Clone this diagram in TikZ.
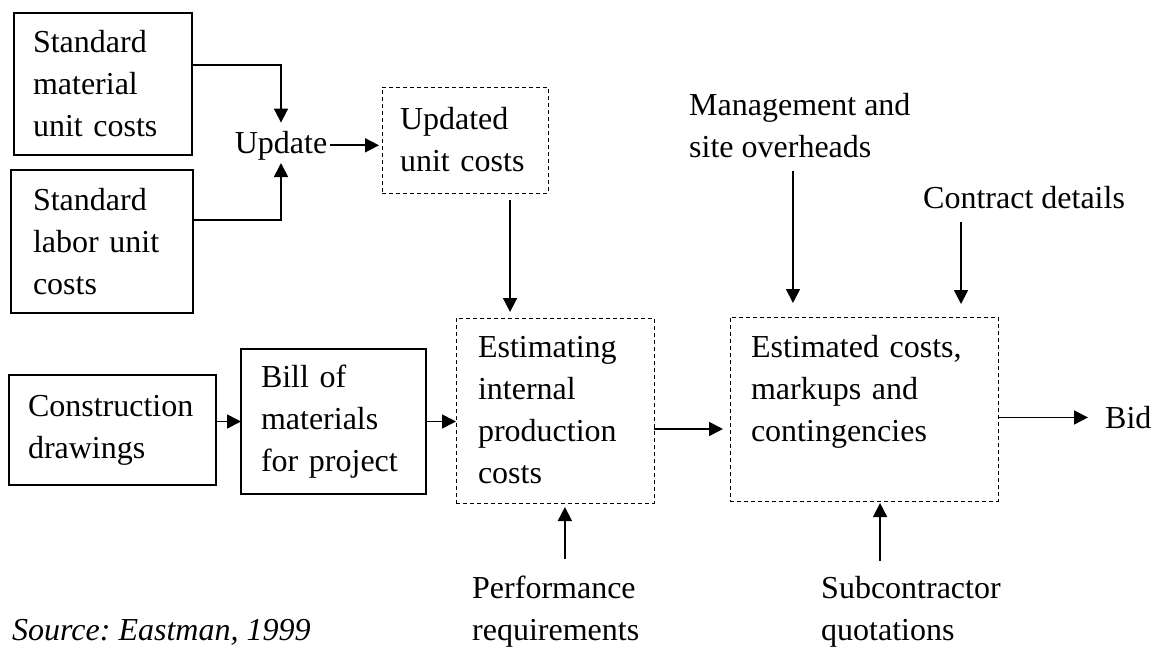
\documentclass[tikz,border=0pt]{standalone}
\usepackage{fontspec}
\setmainfont{Liberation Serif}
\usetikzlibrary{arrows.meta,calc}
\frenchspacing

\tikzset{
  box/.style={draw, line width=1.2pt, anchor=north west, align=left,
    inner ysep=0pt, outer sep=0pt},
  dbox/.style={box, line width=0.9pt, dash pattern=on 4pt off 3pt},
  lbl/.style={anchor=north west, align=left, inner sep=0pt},
  flow/.style={line width=1.7pt, -{Triangle[length=14pt,width=14pt]}}
}

\begin{document}
\begin{tikzpicture}[x=1pt, y=-1pt, font=\fontsize{32}{42}\selectfont]

  \useasboundingbox (0,0) rectangle (1154,648) ;

  % boxes
  \node (sm) [box, inner xsep=19pt, text width=140pt, minimum height=142pt]
    at (14,13) {Standard\\material\\unit costs} ;

  \node (sl) [box, inner xsep=22pt, text width=138pt, minimum height=143pt]
    at (11,170) {Standard\\labor unit\\costs} ;

  \node (uc) [dbox, inner xsep=18pt, text width=130pt, minimum height=106pt]
    at (382,87) {Updated\\unit costs} ;

  \node (cd) [box, inner xsep=19pt, text width=169pt, minimum height=110pt]
    at (9,375) {Construction\\drawings} ;

  \node (bom) [box, inner xsep=20pt, text width=145pt, minimum height=145pt]
    at (241,349) {Bill of\\materials\\for project} ;

  \node (eipc) [dbox, inner xsep=22pt, text width=154pt, minimum height=185pt]
    at (456,318) {Estimating\\internal\\production\\costs} ;

  \node (ecmc) [dbox, inner xsep=21pt, text width=226pt, minimum height=184pt]
    at (730,317) {Estimated costs,\\markups and\\contingencies\\\mbox{}} ;

  % free labels
  \node (upd) [anchor=base, inner sep=3pt] at (281,153) {Update} ;

  \node (mgmt) [lbl] at (689,93) {Management and\\site overheads} ;

  \node (contract) [lbl] at (923,186) {Contract details} ;

  \node (bid) [lbl] at (1105,406) {Bid} ;

  \node (perf) [lbl] at (472,576) {Performance\\requirements} ;

  \node (sub) [lbl] at (821,576) {Subcontractor\\quotations} ;

  \node (src) [lbl] at (12,619) {\itshape Source: Eastman, 1999} ;

  % entry points on the dashed boxes
  \coordinate (eipcN) at ($(eipc.north west)!0.273!(eipc.north east)$) ;

  \coordinate (eipcS) at ($(eipc.south west)!0.55!(eipc.south east)$) ;

  \coordinate (eipcE) at ([yshift=-18.5pt]eipc.east) ;

  \coordinate (ecmcM) at ($(ecmc.north west)!0.235!(ecmc.north east)$) ;

  \coordinate (ecmcC) at ($(ecmc.north west)!0.862!(ecmc.north east)$) ;

  \coordinate (ecmcS) at ($(ecmc.south west)!0.56!(ecmc.south east)$) ;

  % connectors
  \draw [flow, shorten >=5pt] ($(sm.north east)!0.366!(sm.south east)$) -| (upd.north) ;

  \draw [flow] ($(sl.north east)!0.35!(sl.south east)$) -| (upd.south) ;

  \draw [flow, shorten >=3pt] (upd.east) -- (upd.east -| uc.west) ;

  \draw [flow, shorten <=7pt, shorten >=6pt] (uc.south -| eipcN) -- (eipcN) ;

  \draw [flow] (bom.west -| cd.east) -- (bom.west) ;

  \draw [flow] (bom.east) -- (bom.east -| eipc.west) ;

  \draw [flow, shorten >=7pt] (eipcE) -- (eipcE -| ecmc.west) ;

  \draw [flow, shorten >=17pt] (bid.west -| ecmc.east) -- (bid.west) ;

  \draw [flow, shorten <=13pt, shorten >=14pt] (mgmt.south -| ecmcM) -- (ecmcM) ;

  \draw [flow, shorten <=13pt, shorten >=13pt] (contract.south -| ecmcC) -- (ecmcC) ;

  \draw [flow, shorten <=17pt, shorten >=4pt] (perf.north -| eipcS) -- (eipcS) ;

  \draw [flow, shorten <=15pt, shorten >=2pt] (sub.north -| ecmcS) -- (ecmcS) ;

\end{tikzpicture}
\end{document}
